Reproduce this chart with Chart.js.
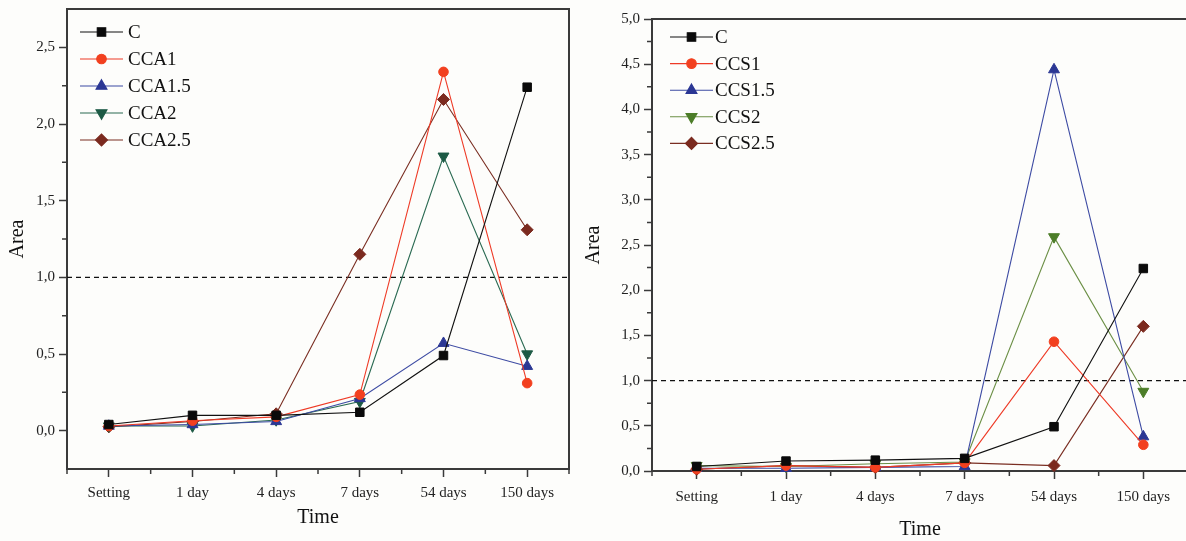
<!DOCTYPE html>
<html>
<head>
<meta charset="utf-8">
<script src="https://cdn.jsdelivr.net/npm/chart.js@4.4.1/dist/chart.umd.min.js"></script>
<style>
  html, body { margin: 0; padding: 0; background: #fdfdfb; overflow: hidden; width: 1186px; height: 541px; }
  .panel { position: absolute; top: 0; height: 541px; }
  #left { left: 0; width: 580px; }
  #right { left: 580px; width: 620px; }
</style>
</head>
<body>
<div class="panel" id="left"><canvas id="chartA" width="580" height="541"></canvas></div>
<div class="panel" id="right"><canvas id="chartS" width="620" height="541"></canvas></div>
<script>
// categories on the time axis
const categories = ['Setting', '1 day', '4 days', '7 days', '54 days', '150 days'];

// left panel: C and CCA series
const labelsA = ['C', 'CCA1', 'CCA1.5', 'CCA2', 'CCA2.5'];
const cca_C   = [0.04, 0.10, 0.10, 0.12, 0.49, 2.24];
const cca_1   = [0.03, 0.065, 0.09, 0.235, 2.34, 0.31];
const cca_15  = [0.03, 0.04, 0.06, 0.21, 0.57, 0.42];
const cca_2   = [0.03, 0.03, 0.07, 0.19, 1.79, 0.50];
const cca_25  = [0.025, 0.06, 0.11, 1.15, 2.16, 1.31];
const yTicksA = [0, 0.5, 1.0, 1.5, 2.0, 2.5];

// right panel: C and CCS series
const labelsS = ['C', 'CCS1', 'CCS1.5', 'CCS2', 'CCS2.5'];
const ccs_C   = [0.05, 0.11, 0.12, 0.14, 0.49, 2.24];
const ccs_1   = [0.02, 0.06, 0.04, 0.09, 1.43, 0.29];
const ccs_15  = [0.03, 0.03, 0.04, 0.05, 4.44, 0.38];
const ccs_2   = [0.06, 0.05, 0.08, 0.10, 2.59, 0.88];
const ccs_25  = [0.02, 0.06, 0.04, 0.09, 0.06, 1.60];
const yTicksS = [0, 0.5, 1.0, 1.5, 2.0, 2.5, 3.0, 3.5, 4.0, 4.5, 5.0];

const threshold = 1.0;

const FONT = '"Liberation Serif", "Times New Roman", serif';
const AXIS = '#3a3a3a';

// marker look per series position
const markers = [
  { pointStyle: 'rect', radius: 6, rotation: 0 },
  { pointStyle: 'circle', radius: 4.8, rotation: 0 },
  { pointStyle: 'triangle', radius: 6.3, rotation: 0 },
  { pointStyle: 'triangle', radius: 6.3, rotation: 180 },
  { pointStyle: 'rectRot', radius: 6, rotation: 0 }
];

function buildDatasets(labels, series, lineColors, pointColors) {
  return series.map((data, i) => ({
    label: labels[i],
    data: data,
    borderColor: lineColors[i],
    borderWidth: 1.1,
    pointBackgroundColor: pointColors[i],
    pointBorderColor: pointColors[i],
    pointBorderWidth: 1,
    pointStyle: markers[i].pointStyle,
    pointRadius: markers[i].radius,
    pointRotation: markers[i].rotation,
    tension: 0,
    clip: false
  }));
}

const midpoints = ticks => ticks.slice(1).map((v, i) => (v + ticks[i]) / 2);

// dashed line at 1.0, frame and minor ticks
const framePlugin = {
  id: 'frame',
  beforeDatasetsDraw(chart, args, opts) {
    const { ctx, chartArea: a, scales: { x, y } } = chart;
    ctx.save();
    const yRef = y.getPixelForValue(threshold);
    ctx.setLineDash([5, 4]);
    ctx.lineWidth = 1.2;
    ctx.strokeStyle = '#111';
    ctx.beginPath();
    ctx.moveTo(a.left, yRef);
    ctx.lineTo(a.right, yRef);
    ctx.stroke();
    ctx.setLineDash([]);

    ctx.strokeStyle = AXIS;
    ctx.lineWidth = 2;
    ctx.beginPath();
    ctx.moveTo(a.left, a.top);
    ctx.lineTo(a.right, a.top);
    ctx.lineTo(a.right, a.bottom);
    ctx.stroke();

    ctx.lineWidth = 1.5;
    ctx.beginPath();
    for (let i = 0; i <= categories.length; i++) {
      const px = x.getPixelForValue(i - 0.5);
      ctx.moveTo(px, a.bottom);
      ctx.lineTo(px, a.bottom + 5);
    }
    midpoints(opts.majors).forEach(v => {
      const py = y.getPixelForValue(v);
      ctx.moveTo(a.left, py);
      ctx.lineTo(a.left - 5, py);
    });
    ctx.stroke();
    ctx.restore();
  }
};

// legend with line sample through the marker
const lineLegend = {
  id: 'lineLegend',
  afterDraw(chart, args, opts) {
    const { ctx, chartArea: a } = chart;
    ctx.save();
    ctx.font = '19px ' + FONT;
    ctx.textBaseline = 'middle';
    chart.data.datasets.forEach((ds, i) => {
      const yy = a.top + opts.top + i * opts.rowGap;
      const x0 = a.left + opts.left;
      ctx.strokeStyle = ds.borderColor;
      ctx.lineWidth = 1.1;
      ctx.beginPath();
      ctx.moveTo(x0, yy);
      ctx.lineTo(x0 + 43, yy);
      ctx.stroke();
      ctx.fillStyle = ds.pointBackgroundColor;
      ctx.strokeStyle = ds.pointBorderColor;
      Chart.helpers.drawPoint(ctx, {
        pointStyle: ds.pointStyle, rotation: ds.pointRotation, radius: ds.pointRadius, borderWidth: 1
      }, x0 + 21.5, yy);
      ctx.fillStyle = '#111';
      ctx.fillText(ds.label, x0 + opts.textOffset, yy + 1);
    });
    ctx.restore();
  }
};

function makeChart(id, cfg) {
  return new Chart(document.getElementById(id), {
    type: 'line',
    data: { labels: categories, datasets: cfg.datasets },
    plugins: [framePlugin, lineLegend],
    options: {
      responsive: false,
      animation: false,
      layout: { padding: { top: cfg.top, right: cfg.right, left: 0, bottom: 0 } },
      plugins: {
        legend: { display: false },
        tooltip: { enabled: false },
        frame: { majors: cfg.majors },
        lineLegend: cfg.legend
      },
      scales: {
        x: {
          type: 'category',
          offset: true,
          grid: { drawOnChartArea: false, tickLength: 8, tickWidth: 1.5, tickColor: AXIS },
          border: { color: AXIS, width: 2 },
          ticks: { font: { family: FONT, size: 15 }, color: '#222', padding: cfg.xPad, maxRotation: 0, autoSkip: false },
          title: {
            display: true, text: 'Time', color: '#111',
            font: { family: FONT, size: 20, lineHeight: cfg.xTitleLH },
            padding: { top: 0, bottom: cfg.xTitlePad }
          },
          afterFit(s) {
            s.height = cfg.xHeight;
            s.paddingLeft = 0;
            s.paddingRight = 0;
          }
        },
        y: {
          type: 'linear',
          min: cfg.min,
          max: cfg.max,
          afterBuildTicks(s) { s.ticks = cfg.majors.map(v => ({ value: v })); },
          grid: { drawOnChartArea: false, tickLength: 8, tickWidth: 1.5, tickColor: AXIS },
          border: { color: AXIS, width: 2 },
          ticks: {
            font: { family: FONT, size: 15 }, color: '#222', padding: 4,
            callback: v => v.toFixed(1).replace('.', ',')
          },
          title: {
            display: true, text: 'Area', color: '#111',
            font: { family: FONT, size: 20, lineHeight: 1.2 },
            padding: { top: cfg.yTitlePad, bottom: 0 }
          },
          afterFit(s) {
            s.width = cfg.yWidth;
            s.paddingTop = 0;
            s.paddingBottom = 0;
          }
        }
      }
    }
  });
}

makeChart('chartA', {
  datasets: buildDatasets(labelsA, [cca_C, cca_1, cca_15, cca_2, cca_25],
    ['#111111', '#ee3a26', '#3d4ba3', '#2a6a52', '#7a2e22'],
    ['#0a0a0a', '#f2401f', '#2b3794', '#1d5a45', '#7b2a1f']),
  majors: yTicksA, min: -0.25, max: 2.75,
  top: 9, right: 11, yWidth: 67, xHeight: 72,
  xPad: 7, xTitleLH: 1.2, xTitlePad: 11, yTitlePad: 6,
  legend: { left: 13, top: 23, rowGap: 27, textOffset: 48 }
});

makeChart('chartS', {
  datasets: buildDatasets(labelsS, [ccs_C, ccs_1, ccs_15, ccs_2, ccs_25],
    ['#111111', '#ee3a26', '#3d4ba3', '#6b8f45', '#7a2e22'],
    ['#0a0a0a', '#f2401f', '#2b3794', '#4c7d28', '#7b2a1f']),
  majors: yTicksS, min: 0, max: 5,
  top: 19, right: 12, yWidth: 72, xHeight: 70,
  xPad: 9, xTitleLH: 1.0, xTitlePad: 1, yTitlePad: 2,
  legend: { left: 18, top: 18, rowGap: 26.6, textOffset: 45 }
});
</script>
</body>
</html>
